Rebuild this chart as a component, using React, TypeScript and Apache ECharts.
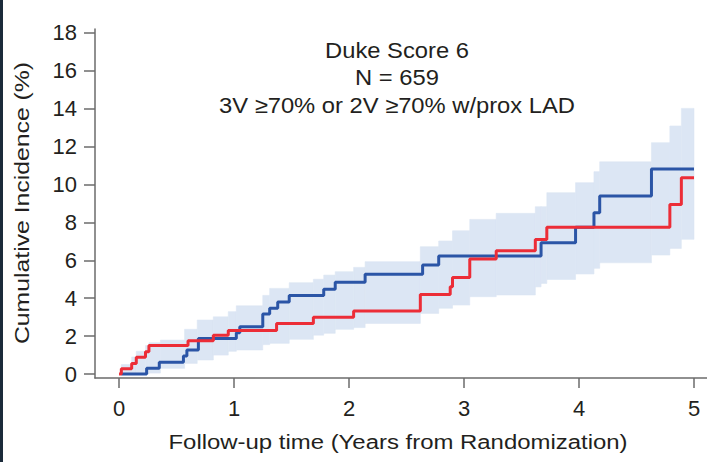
import React, { useEffect, useRef } from "react";
import * as echarts from "echarts";

// Blue arm: [time (years), cumulative incidence (%)]
const blueTimes = [0.02, 0.24, 0.35, 0.56, 0.59, 0.69, 1.02, 1.05, 1.25, 1.31, 1.38, 1.48, 1.78, 1.88, 2.14, 2.64, 2.78, 3.67, 3.97, 4.13, 4.18, 4.63, 5.0];
const blueValues = [0, 0.3, 0.62, 0.95, 1.27, 1.88, 2.18, 2.5, 3.17, 3.47, 3.8, 4.14, 4.47, 4.85, 5.26, 5.75, 6.23, 6.93, 7.74, 8.51, 9.39, 10.82, 10.82];

// Red arm
const redTimes = [0.0, 0.02, 0.11, 0.15, 0.23, 0.26, 0.6, 0.82, 0.95, 1.37, 1.69, 2.04, 2.62, 2.88, 2.9, 3.05, 3.28, 3.62, 3.72, 4.79, 4.89, 5.0];
const redValues = [0, 0.28, 0.56, 0.88, 1.18, 1.5, 1.76, 2.04, 2.3, 2.67, 2.99, 3.33, 4.2, 4.6, 5.1, 6.07, 6.5, 7.1, 7.74, 8.95, 10.36, 10.36];

// Confidence band (value holds from bandTimes[i] to bandTimes[i+1])
const bandTimes = [0.0, 0.02, 0.11, 0.15, 0.23, 0.26, 0.36, 0.57, 0.68, 0.82, 0.95, 1.02, 1.25, 1.31, 1.48, 1.69, 1.78, 1.88, 2.04, 2.14, 2.62, 2.78, 2.9, 3.05, 3.28, 3.62, 3.67, 3.72, 3.97, 4.13, 4.18, 4.63, 4.79, 4.89, 5.0];
const bandLower = [0, 0, 0, 0, 0, 0.05, 0.3, 0.56, 0.74, 1.0, 1.2, 1.27, 1.55, 1.62, 1.83, 2.05, 2.15, 2.36, 2.45, 2.67, 3.2, 3.47, 3.64, 4.08, 4.17, 4.6, 4.78, 4.99, 5.28, 5.58, 5.87, 6.28, 6.63, 7.11, 7.11];
const bandUpper = [0, 0.5, 0.9, 1.2, 1.5, 1.65, 1.79, 2.36, 2.85, 3.02, 3.29, 3.6, 4.15, 4.52, 4.82, 5.0, 5.22, 5.4, 5.63, 5.93, 6.72, 7.02, 7.56, 8.16, 8.48, 8.83, 8.83, 9.57, 10.1, 10.68, 11.2, 12.21, 13.09, 14.02, 14.02];

const xTicks = [0, 1, 2, 3, 4, 5];
const yTicks = [0, 2, 4, 6, 8, 10, 12, 14, 16, 18];

const annotationLines = ["Duke Score 6", "N = 659", "3V ≥70% or 2V ≥70% w/prox LAD"];
const xTitle = "Follow-up time (Years from Randomization)";
const yTitle = "Cumulative Incidence (%)";

const FONT = "'Liberation Sans', Arial, Helvetica, sans-serif";
const TEXT = "#231f20";
const AXIS = "#6b6b6b";
const BAND = "#dce6f4";

export default function App() {
  const ref = useRef<HTMLDivElement>(null);

  useEffect(() => {
    if (!ref.current) return;
    const chart = echarts.init(ref.current, null, { renderer: "svg" });

    const pairs = (xs: number[], ys: number[]) => xs.map((x, i) => [x, ys[i]]);
    const bandSegments = bandTimes.slice(0, -1).map((t, i) => [t, bandTimes[i + 1], bandLower[i], bandUpper[i]]);

    chart.setOption({
      animation: false,
      backgroundColor: "#ffffff",
      grid: { left: 95, right: 0, top: 29, bottom: 84, containLabel: false },
      xAxis: {
        type: "value",
        min: -0.209,
        max: 5.113,
        splitLine: { show: false },
        axisLine: { show: true, onZero: false, lineStyle: { color: AXIS, width: 1.5 } },
        axisTick: { show: true, length: 10, customValues: xTicks, lineStyle: { color: AXIS, width: 1.5 } },
        axisLabel: {
          customValues: xTicks,
          margin: 19,
          fontSize: 22,
          fontFamily: FONT,
          color: TEXT,
        },
      },
      yAxis: {
        type: "value",
        min: -0.21,
        max: 18.21,
        splitLine: { show: false },
        axisLine: { show: true, onZero: false, lineStyle: { color: AXIS, width: 1.5 } },
        axisTick: { show: true, length: 11, customValues: yTicks, lineStyle: { color: AXIS, width: 1.5 } },
        axisLabel: {
          customValues: yTicks,
          margin: 18,
          fontSize: 22,
          fontFamily: FONT,
          color: TEXT,
        },
      },
      graphic: [
        { type: "rect", left: 0, top: 0, shape: { x: 0, y: 0, width: 3, height: 462 }, style: { fill: "#1b2a3a" } },
        ...annotationLines.map((t, i) => ({
          type: "text",
          x: 397,
          y: 50 + i * 27.5,
          scaleX: 1.08,
          style: { text: t, fontSize: 22, fontFamily: FONT, fill: TEXT, align: "center", verticalAlign: "middle" },
        })),
        {
          type: "text",
          x: 398,
          y: 442,
          scaleX: 1.14,
          style: { text: xTitle, fontSize: 21, fontFamily: FONT, fill: TEXT, align: "center", verticalAlign: "middle" },
        },
        {
          type: "text",
          x: 22,
          y: 203,
          rotation: Math.PI / 2,
          scaleX: 1.18,
          style: { text: yTitle, fontSize: 21, fontFamily: FONT, fill: TEXT, align: "center", verticalAlign: "middle" },
        },
      ],
      series: [
        {
          type: "custom",
          name: "band",
          silent: true,
          z: 1,
          data: bandSegments,
          encode: { x: [0, 1], y: [2, 3] },
          renderItem: (params: any, api: any) => {
            const p0 = api.coord([api.value(0), api.value(3)]);
            const p1 = api.coord([api.value(1), api.value(2)]);
            return {
              type: "rect",
              shape: { x: p0[0], y: p0[1], width: p1[0] - p0[0], height: p1[1] - p0[1] },
              style: { fill: BAND, stroke: BAND, lineWidth: 0.6 },
            };
          },
        },
        {
          type: "line",
          name: "Blue",
          step: "end",
          symbol: "none",
          lineStyle: { color: "#2b55a6", width: 3 },
          data: pairs(blueTimes, blueValues),
          z: 3,
        },
        {
          type: "line",
          name: "Red",
          step: "end",
          symbol: "none",
          lineStyle: { color: "#ec2d37", width: 3 },
          data: pairs(redTimes, redValues),
          z: 4,
        },
      ],
    });

    return () => chart.dispose();
  }, []);

  return (
    <div
      ref={ref}
      style={{ position: "absolute", left: 0, top: 0, width: 707, height: 462, background: "#fff" }}
    />
  );
}
